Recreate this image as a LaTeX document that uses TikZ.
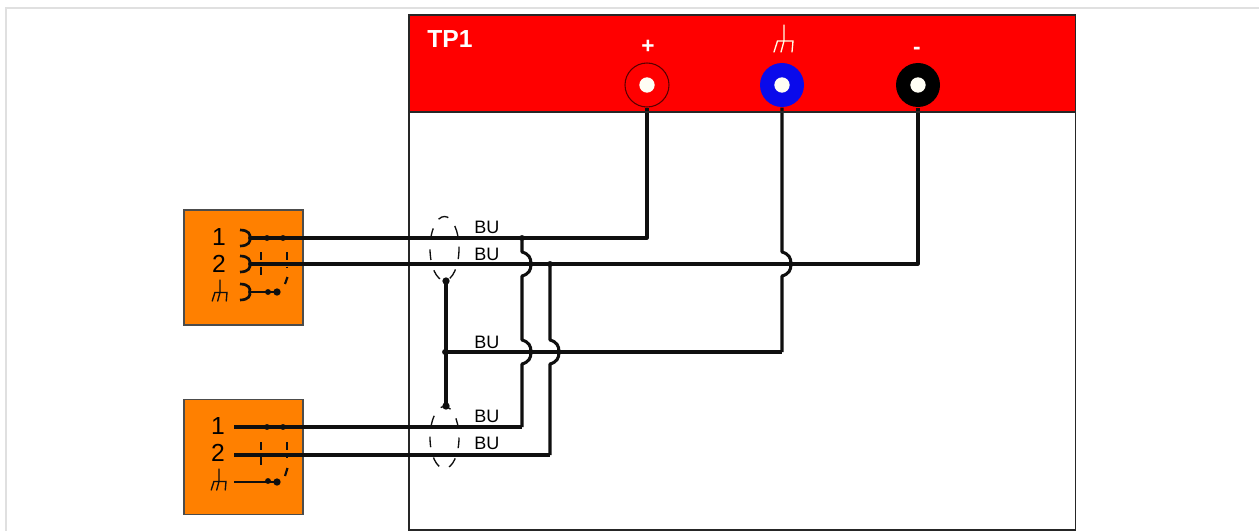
\documentclass[tikz,border=0pt]{standalone}
\usepackage{fontspec}
\setmainfont{Liberation Sans}
\definecolor{panelred}{RGB}{255,0,0}
\definecolor{boxorange}{RGB}{255,128,0}
\definecolor{termblue}{RGB}{10,10,235}
\definecolor{wire}{RGB}{15,15,15}
\tikzset{
  x=0.75pt,y=-0.75pt,
  wireline/.style={draw=wire,line width=2.3pt,line join=round},
  thinline/.style={draw=wire,line width=2.1pt},
  frameline/.style={draw=black!85,line width=1pt},
  shield/.style={draw=wire,line width=1pt,dash pattern=on 8pt off 8pt},
  portbox/.style={draw=black!70,line width=0.9pt,fill=boxorange,rectangle,minimum width=89.25pt,minimum height=86.25pt,inner sep=0pt},
  jack/.style={circle,inner sep=0pt,minimum size=33pt,line width=0.8pt},
  hole/.style={circle,inner sep=0pt,minimum size=11.5pt,fill=white!96!yellow,draw=none},
  dot/.style={circle,fill=wire,inner sep=0pt,minimum size=5.5pt},
  tiny/.style={circle,fill=wire,inner sep=0pt,minimum size=4.4pt},
  bu/.style={font=\fontsize{13.5}{13.5}\selectfont,text=black,inner sep=0pt,anchor=west},
  pinlabel/.style={font=\fontsize{18.5}{18.5}\selectfont,text=black,inner sep=0pt},
  toplabel/.style={font=\bfseries\fontsize{17}{17}\selectfont,text=white,inner sep=0pt}
}
\newcommand{\gnd}[5]{% x, y(top of stem), colour, width, size factor
  \draw[#3,line width=#4,line cap=round] (#1,#2) -- (#1,{#2+16*#5})
    ({#1-10*#5},{#2+27*#5}) -- ({#1-6.5*#5},{#2+16*#5}) -- ({#1+9*#5},{#2+16*#5}) -- ({#1+8*#5},{#2+27*#5})
    ({#1-3*#5},{#2+27*#5}) -- (#1,{#2+16*#5});
}
\newcommand{\plug}[1]{% y centre
  \draw[wire,line width=2pt] (240,#1-8) .. controls (249,#1-8) and (251,#1-3) .. (249.5,#1)
     .. controls (251,#1+3) and (249,#1+8) .. (240,#1+8);
}
\begin{document}
\begin{tikzpicture}
\useasboundingbox (0,0) rectangle (1259,531);
\fill[white] (0,0) rectangle (1259,531);
\draw[black!12,line width=1.6pt] (6,531) -- (6,8) -- (1259,8);

% panel
\node[draw=none,fill=white,rectangle,minimum width=499.5pt,minimum height=385.5pt,inner sep=0pt] (panel) at (742,272.5) {};
\fill[panelred] (409,15) rectangle (1075.5,112);
\draw[frameline] (409,531) -- (409,15) -- (1075.5,15) -- (1075.5,531);
\draw[frameline] (409,530) -- (1075.5,530);
\draw[frameline] (409,112) -- (1075.5,112);
\node[font=\bfseries\fontsize{18.5}{18.5}\selectfont,text=white,inner sep=0pt,anchor=west] (tp) at (427,39) {TP1};
\node[toplabel] (plus) at (648,47) {+};
\node[toplabel] (minus) at (917,51) {-};
\gnd{784}{25}{white!90!yellow}{1pt}{1}

% terminals
\node[jack,fill=panelred,draw=black!65!panelred] (tplus) at (647,85) {};
\node[jack,fill=termblue] (tgnd) at (782,85) {};
\node[jack,fill=black] (tminus) at (918,85) {};
\node[hole] (h1) at (tplus) {};
\node[hole] (h2) at (tgnd) {};
\node[hole] (h3) at (tminus) {};

% port boxes
\node[portbox] (box1) at (243.5,267.5) {};
\node[portbox] (box2) at (243.5,457) {};
\node[pinlabel] (a1) at (219,237) {1};
\node[pinlabel] (a2) at (219,264) {2};
\node[pinlabel] (b1) at (218,426) {1};
\node[pinlabel] (b2) at (218,453) {2};
\gnd{220}{280}{wire}{1pt}{0.78}
\gnd{219}{469}{wire}{1pt}{0.78}

% junction points
\coordinate (s1) at (250,238);
\coordinate (s2) at (250,264);
\coordinate (s3) at (250,292);
\coordinate (l1) at (234,427);
\coordinate (l2) at (234,455);
\coordinate (l3) at (234,482);
\coordinate (j1) at (522,238);
\coordinate (j2) at (550,264);
\coordinate (k1) at (522,427);
\coordinate (k2) at (550,455);
\coordinate (g) at (445,352);
\coordinate (st) at (446,281);
\coordinate (sb) at (446,406);
\coordinate (g2) at (782,352);
\coordinate (c1) at (647,238);
\coordinate (c3) at (918,264);

% wires
\draw[wireline] (s1) -- (j1) -- (c1) -- (tplus.south);
\draw[wireline] (s2) -- (c3) -- (tminus.south);
\draw[wireline] (l1) -- (k1);
\draw[wireline] (l2) -- (k2);
\draw[wireline] (st) -- (sb);
\draw[wireline] (g) -- (g2);
\draw[thinline] (s3) -- (276,292);
\draw[thinline] (l3) -- (276,482);

% crossing wires with bumps
\draw[wireline] (j1) -- (522,252) .. controls (529,254) and (531,258) .. (531,264)
  .. controls (531,270) and (529,274) .. (522,276) -- (522,340)
  .. controls (529,342) and (531,346) .. (531,352)
  .. controls (531,358) and (529,362) .. (522,364) -- (k1);
\draw[wireline] (j2) -- (550,340)
  .. controls (557,342) and (559,346) .. (559,352)
  .. controls (559,358) and (557,362) .. (550,364) -- (k2);
\draw[wireline] (tgnd.south) -- (782,252)
  .. controls (789,254) and (791,258) .. (791,264)
  .. controls (791,270) and (789,274) .. (782,276) -- (g2);
\draw[frameline] (409,112) -- (1075.5,112);

% dots
\node[dot] at (st) {};
\node[dot] at (sb) {};
\node[tiny] at (g) {};
\node[tiny] at (j1) {};
\node[tiny] at (j2) {};
\node[tiny] at (267,238) {};
\node[tiny] at (283,238) {};
\node[tiny] at (268,292) {};
\node[dot] at (277,292) {};
\node[tiny] at (267,427) {};
\node[tiny] at (283,427) {};
\node[tiny] at (268,481) {};
\node[dot] at (277,482) {};

% plugs
\plug{238}\plug{264}\plug{292}

% BU labels
\node[bu] at (474,227) {BU};
\node[bu] at (474,254) {BU};
\node[bu] at (474,342) {BU};
\node[bu] at (474,416) {BU};
\node[bu] at (474,443) {BU};

% shields
\draw[shield] (444.5,248.5) ellipse (14.5 and 32);
\draw[shield] (444.5,437.5) ellipse (14.5 and 31);

% box shields
\draw[wire,line width=1.6pt,dash pattern=on 6pt off 5pt] (261,252) -- (261,278);
\draw[wire,line width=1.6pt,dash pattern=on 6pt off 5pt] (287,252) -- (287,268);
\draw[wire,line width=1.6pt] (285,284) -- (287.5,277);
\draw[wire,line width=1.6pt,dash pattern=on 6pt off 5pt] (261,442) -- (261,468);
\draw[wire,line width=1.6pt,dash pattern=on 6pt off 5pt] (287,442) -- (287,458);
\draw[wire,line width=1.6pt] (285,476) -- (287.5,468);
\end{tikzpicture}
\end{document}
